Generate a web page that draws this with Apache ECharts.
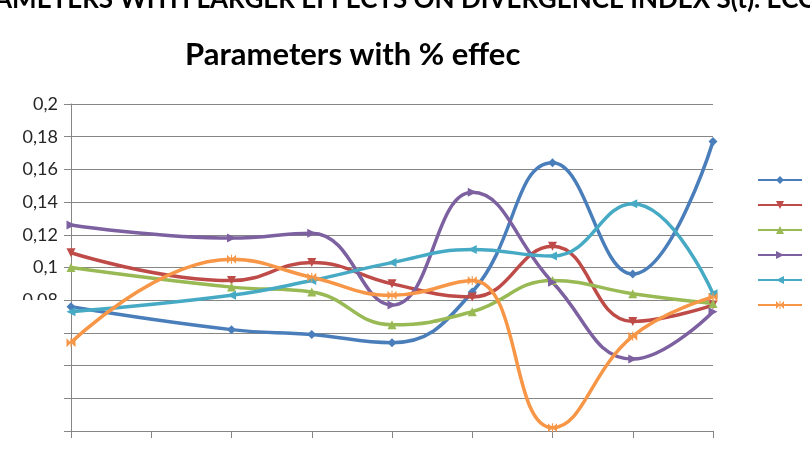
<!DOCTYPE html>
<html><head><meta charset="utf-8">
<script src="https://cdn.jsdelivr.net/npm/echarts@6/dist/echarts.min.js"></script>
<style>html,body{margin:0;padding:0;background:#fff}#c{width:810px;height:464px}</style>
</head><body><div id="c"></div>
<script>
const categories = ['1','2','3','4','5','6','7','8','9'];
const seriesNames = ['S1','S2','S3','S4','S5','S6'];
const blue   = [0.076, null, 0.062, 0.059, 0.054, 0.085, 0.164, 0.096, 0.177];
const red    = [0.109, null, 0.092, 0.103, 0.090, 0.082, 0.113, 0.067, 0.077];
const green  = [0.100, null, 0.088, 0.085, 0.065, 0.073, 0.092, 0.084, 0.078];
const purple = [0.126, null, 0.118, 0.121, 0.077, 0.146, 0.091, 0.044, 0.073];
const cyan   = [0.073, null, 0.083, 0.092, 0.103, 0.111, 0.107, 0.139, 0.084];
const orange = [0.054, null, 0.105, 0.094, 0.083, 0.092, 0.002, 0.058, 0.082];
const yTicks = [0, 0.02, 0.04, 0.06, 0.08, 0.1, 0.12, 0.14, 0.16, 0.18, 0.2];
const topText = 'AMETERS WITH LARGER EFFECTS ON DIVERGENCE INDEX S(t). ECO';
const titleText = 'Parameters with % effec';

const colors = ['#4A7EBB','#BE4B48','#98B954','#7D60A0','#46AAC5','#F79646'];
const bowtie = 'path://M0,0L5,5L0,10Z M10,0L5,5L10,10Z M4.4,0H5.6V10H4.4Z';
const symbols = [
  {symbol:'diamond', rotate:0, size:9},
  {symbol:'triangle', rotate:180, size:9},
  {symbol:'triangle', rotate:0, size:9},
  {symbol:'triangle', rotate:-90, size:9},
  {symbol:'triangle', rotate:90, size:9},
  {symbol:bowtie, rotate:0, size:9}
];
const data = [blue, red, green, purple, cyan, orange];

const chart = echarts.init(document.getElementById('c'));
const fam = 'Lato, "Open Sans", sans-serif';
chart.setOption({
  animation:false,
  backgroundColor:'#fff',
  color: colors,
  grid:{left:71, right:97, top:104, bottom:33, containLabel:false},
  legend:{
    orient:'vertical', left:752, top:170, itemGap:16, itemWidth:44, itemHeight:10,
    formatter:()=>'', textStyle:{fontSize:1},
    data: seriesNames
  },
  xAxis:{
    type:'category', data:categories, boundaryGap:false,
    axisLine:{lineStyle:{color:'#868686', width:1}},
    axisTick:{show:true, length:7, lineStyle:{color:'#868686'}},
    axisLabel:{show:false},
    splitLine:{show:false}
  },
  yAxis:{
    type:'value', min:0, max:0.2, interval:0.02,
    axisLine:{show:true, lineStyle:{color:'#868686'}},
    axisTick:{show:true, length:7, lineStyle:{color:'#868686'}},
    splitLine:{lineStyle:{color:'#868686', width:1}},
    axisLabel:{
      margin:13, color:'#262626', fontFamily:fam, fontSize:18,
      formatter:v=>{ const t = yTicks.find(x=>Math.abs(x-v)<1e-9); const s = (t===undefined?v:t); return String(parseFloat(s.toFixed(2))).replace('.',','); }
    }
  },
  series: data.map((d,i)=>({
    name: seriesNames[i], type:'line', data:d, smooth:0.45, connectNulls:true,
    symbol: symbols[i].symbol, symbolRotate: symbols[i].rotate, symbolSize: symbols[i].size,
    showSymbol:true, lineStyle:{width:3.5, color:colors[i]}, itemStyle:{color:colors[i]}
  })),
  graphic:[
    {type:'rect', shape:{x:0, y:300, width:61, height:164}, style:{fill:'#fff'}, z:100},
    {type:'text', left:-6, top:-13, z:100, style:{text:topText, font:'bold 26px '+fam, fill:'#000'}},
    {type:'text', left:185, top:39, z:100, style:{text:titleText, font:'bold 31px '+fam, fill:'#000'}}
  ]
});
</script></body></html>
